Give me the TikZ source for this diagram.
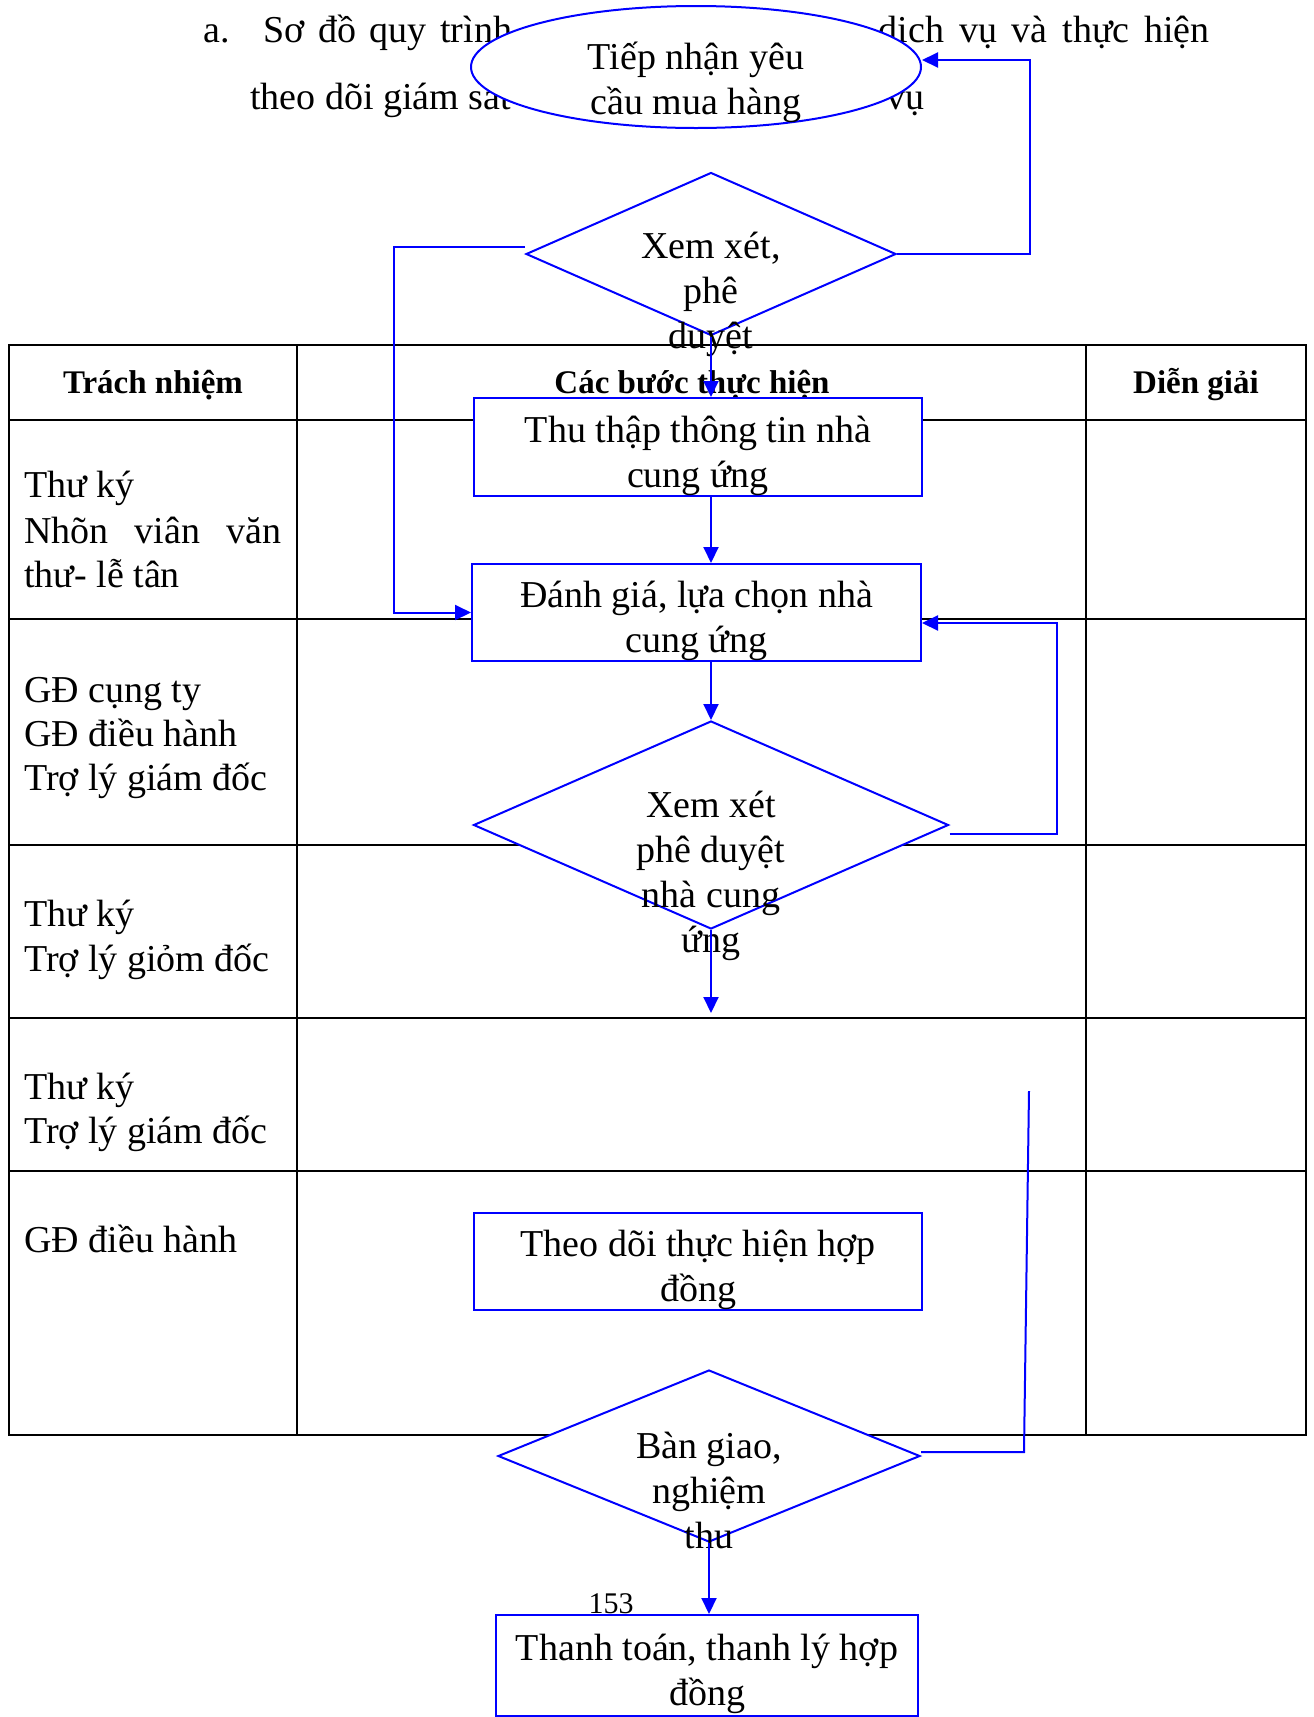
\documentclass[tikz,border=0pt]{standalone}
\usepackage{fontspec}
\setmainfont{Liberation Serif}
\usetikzlibrary{arrows.meta,shapes.geometric,calc}
\definecolor{flowblue}{RGB}{0,0,255}

\begin{document}
\begin{tikzpicture}[x=1pt,y=-1pt,
  grid/.style={line width=2.4pt,black},
  body/.style={font=\fontsize{38}{45}\selectfont},
  head/.style={anchor=base,inner sep=0pt,font=\fontsize{33}{40}\selectfont\bfseries},
  stepbox/.style={draw=flowblue,line width=2pt,fill=white,rectangle,inner sep=0pt},
  decision/.style={draw=flowblue,line width=2pt,fill=white,diamond,inner sep=0pt},
  flow/.style={draw=flowblue,line width=2pt,-{Triangle[length=16pt,width=15pt]}},
  link/.style={draw=flowblue,line width=2pt},
  lbl/.style={anchor=base west,inner sep=0pt,body},
  multi/.style={align=center,inner sep=0pt,body}
]
\useasboundingbox (0,0) rectangle (1314,1717);
\fill[white] (0,0) rectangle (1314,1717);

% responsibility table
\draw[grid] (9,345) rectangle (1306,1435);
\draw[grid] (297,345) -- (297,1435);
\draw[grid] (1086,345) -- (1086,1435);
\foreach \yy in {420,619,845,1018,1171}
  \draw[grid] (9,\yy) -- (1306,\yy);

% table headings
\node[head] (h1) at (153,393) {Trách nhiệm};
\node[head] (h2) at (692,393) {Các bước thực hiện};
\node[head] (h3) at (1196,393) {Diễn giải};

% responsibility column
\node[lbl] (r1a) at (24,497) {Thư ký};
\node[lbl] (r1b) at (24,543) {\makebox[257pt][s]{Nhõn viân văn}};
\node[lbl] (r1c) at (24,587) {thư- lễ tân};
\node[lbl] (r2a) at (24,702) {GĐ cụng ty};
\node[lbl] (r2b) at (24,746) {GĐ điều hành};
\node[lbl] (r2c) at (24,790) {Trợ lý giám đốc};
\node[lbl] (r3a) at (24,926) {Thư ký};
\node[lbl] (r3b) at (24,971) {Trợ lý giỏm đốc};
\node[lbl] (r4a) at (24,1099) {Thư ký};
\node[lbl] (r4b) at (24,1143) {Trợ lý giám đốc};
\node[lbl] (r5a) at (24,1252) {GĐ điều hành};

% section heading
\node[lbl] (ta) at (203,42) {a.};
\node[lbl] (tb) at (263,42) {\makebox[249pt][s]{Sơ đồ quy trình}};
\node[anchor=base east,inner sep=0pt,body] (tc) at (1210,42) {\makebox[331pt][s]{dịch vụ và thực hiện}};
\node[lbl] (td) at (250,109) {theo dõi giám sát};
\node[lbl] (te) at (886,109) {vụ};

% start
\node[draw=flowblue,line width=2pt,fill=white,ellipse,minimum width=450pt,
  minimum height=122pt,inner sep=0pt] (e) at (696,67) {};
\node[multi] (et) at (696,82) {Tiếp nhận yêu\\cầu mua hàng};

% decisions
\node[decision,minimum width=370pt,minimum height=163pt] (d1) at (711,254) {};
\node[decision,minimum width=475pt,minimum height=208pt] (d2) at (711,825) {};
\node[decision,minimum width=422pt,minimum height=172pt] (d3) at (709,1456) {};

% steps
\node[stepbox,minimum width=448pt,minimum height=98pt] (b1) at (698,447) {};
\node[stepbox,minimum width=449pt,minimum height=97pt] (b2) at (696.5,612.5) {};
\node[stepbox,minimum width=448pt,minimum height=97pt] (b3) at (698,1261.5) {};
\node[stepbox,minimum width=422pt,minimum height=101pt] (b4) at (707,1665.5) {};

% step texts
\node[multi] (b1t) at (698,456) {Thu thập thông tin nhà\\cung ứng};
\node[multi] (b2t) at (696.5,621) {Đánh giá, lựa chọn nhà\\cung ứng};
\node[multi] (b3t) at (698,1270) {Theo dõi thực hiện hợp\\đồng};
\node[multi] (b4t) at (707,1674) {Thanh toán, thanh lý hợp\\đồng};

% decision texts
\node[multi] (d1t) at (711,294) {Xem xét,\\phê\\duyệt};
\node[multi] (d2t) at (711,876) {Xem xét\\phê duyệt\\nhà cung\\ứng};
\node[multi] (d3t) at (709,1490) {Bàn giao,\\nghiệm\\thu};

% page number
\node[anchor=base,inner sep=0pt,font=\fontsize{30}{36}\selectfont] (pg) at (611,1613) {153};

% main flow
\draw[flow] (d1.south) -- (d1.south |- b1.north);
\draw[flow] (b1.south -| d1.south) -- (b2.north -| d1.south);
\draw[flow] (b2.south -| d2.north) -- (d2.north);
\coordinate (open) at (711,1013);
\draw[flow] (d2.south) -- (open);
\draw[flow] (d3.south) -- (d3.south |- b4.north);

% return paths
\draw[flow] (d1.east) -- ++(133,0) |- ([yshift=7pt]e.east);
\draw[flow] ([yshift=7pt]d1.west) -- ++(-131,0) |- (b2.west);
\draw[flow] ([yshift=-9pt]d2.east) -- ++(107,0) |- ([yshift=-10.5pt]b2.east);
\coordinate (t3) at (1029,1091);
\draw[link] (t3) -- (1024,1452) -- ([yshift=4pt]d3.east);
\end{tikzpicture}
\end{document}
